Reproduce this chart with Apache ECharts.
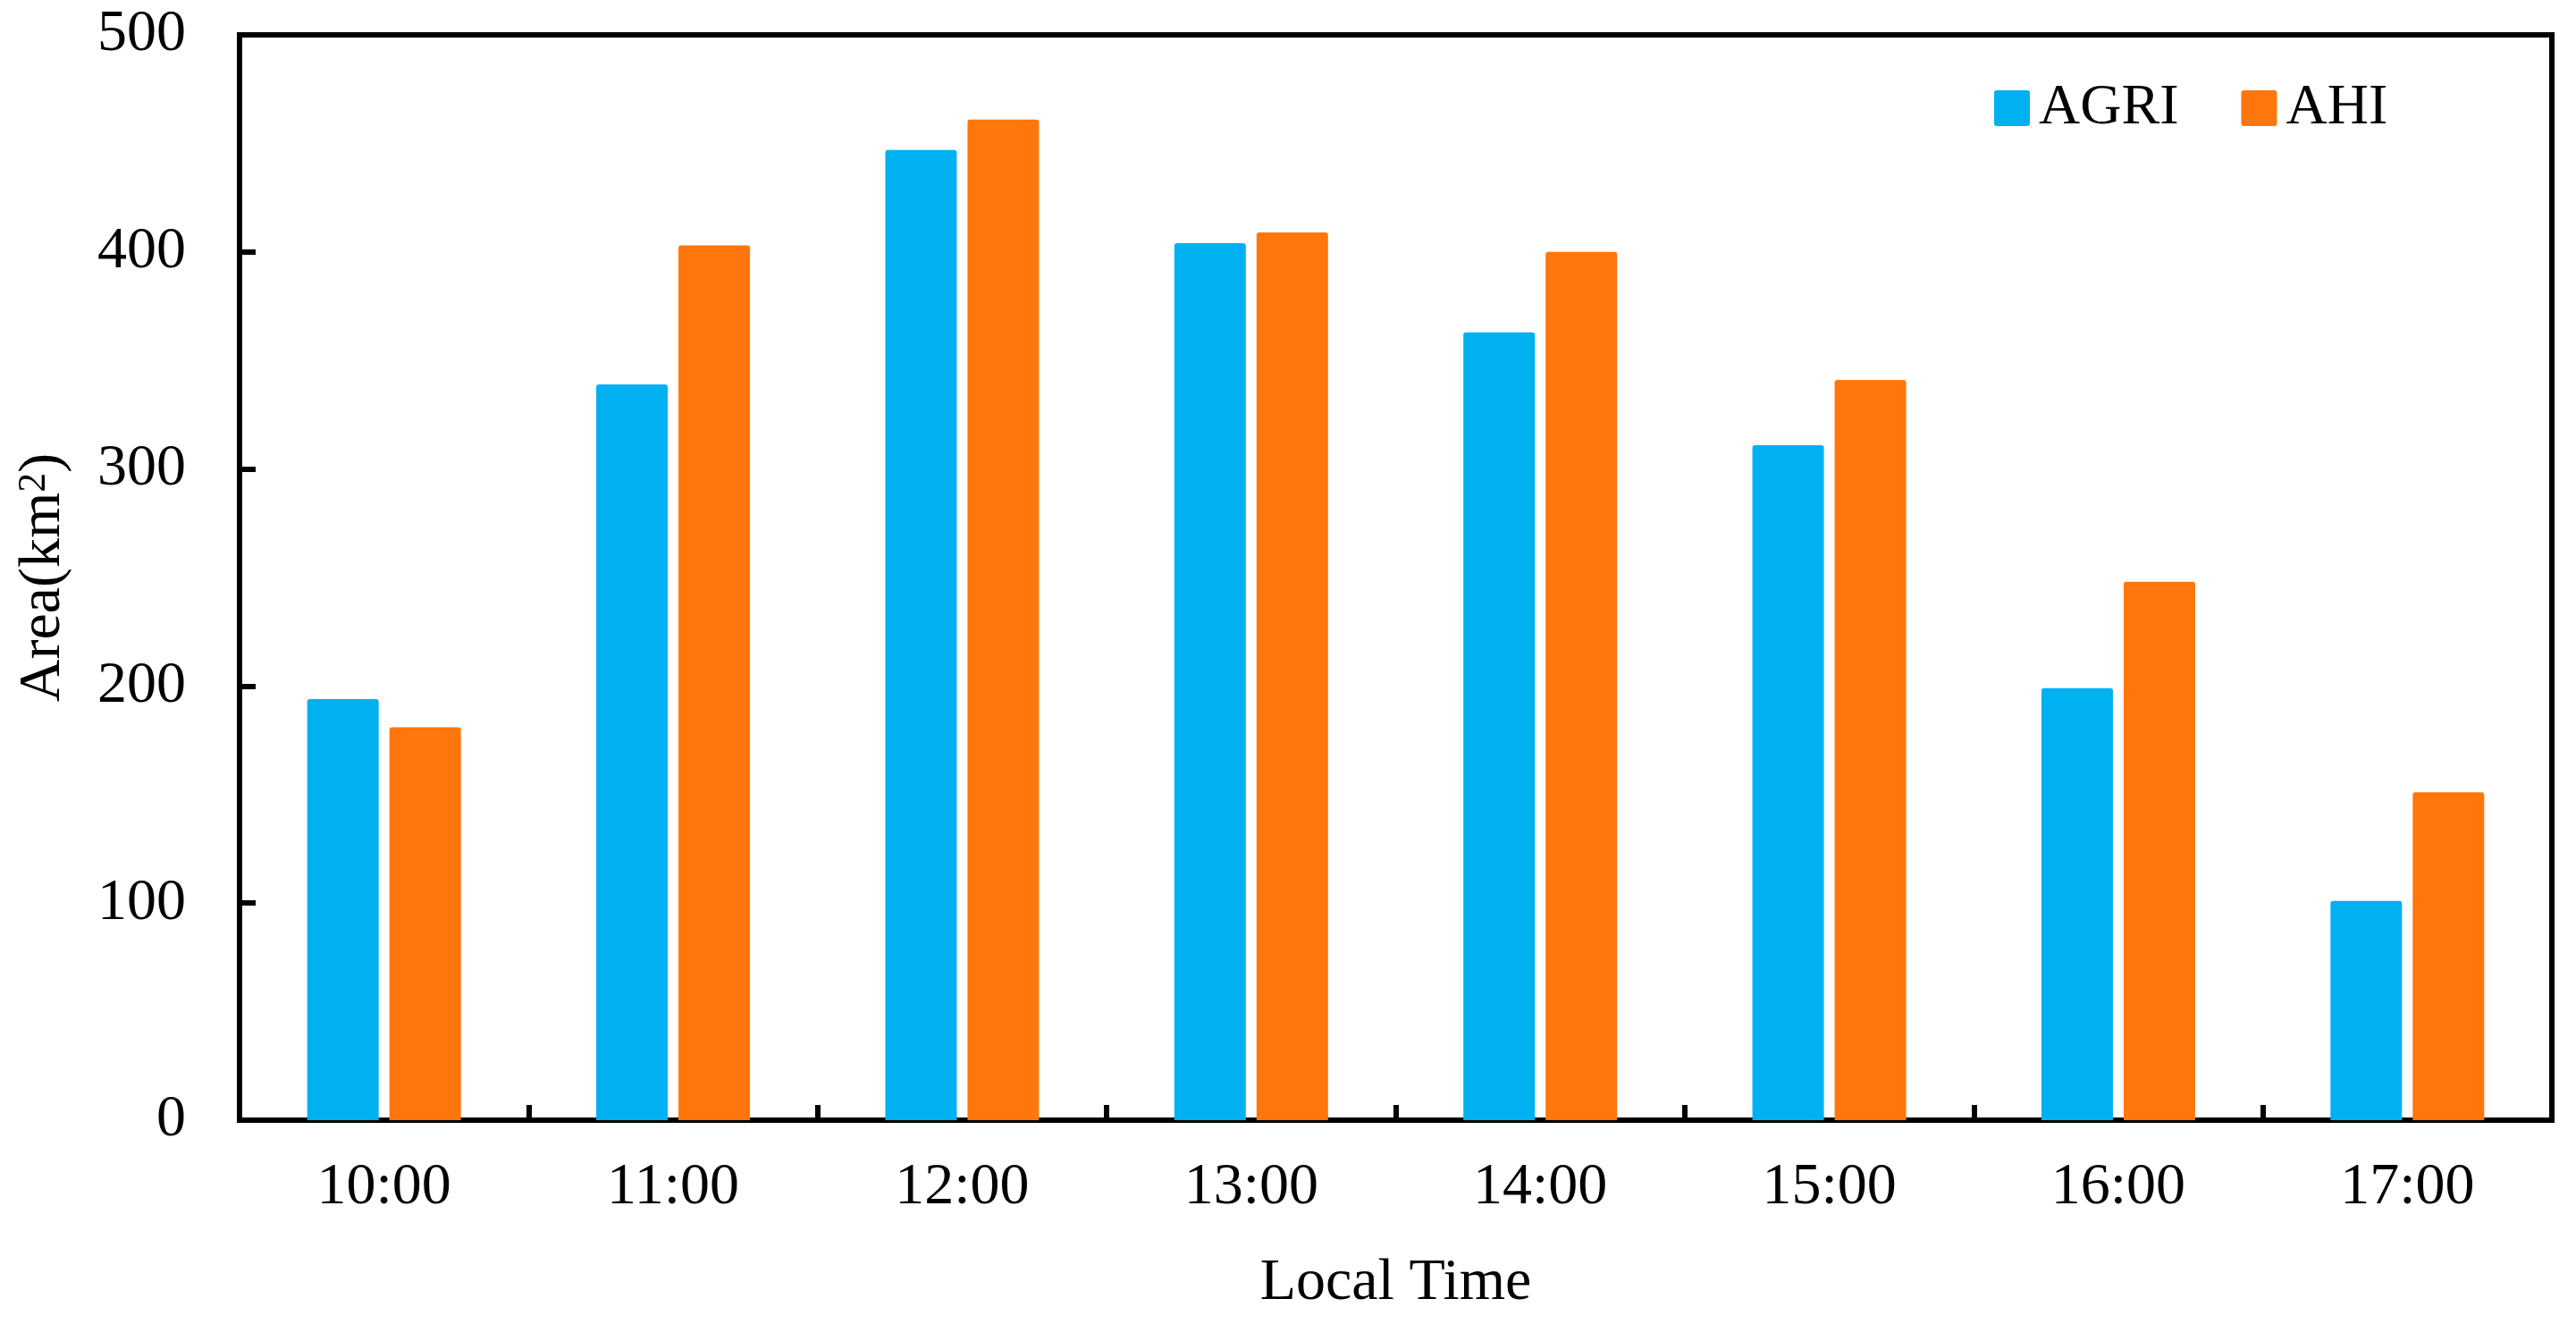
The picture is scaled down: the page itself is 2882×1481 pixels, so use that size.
<!DOCTYPE html>
<html>
<head>
<meta charset="utf-8">
<script src="https://cdn.jsdelivr.net/npm/echarts@6/dist/echarts.min.js"></script>
<style>
html,body{margin:0;padding:0;background:#fff;}
#chart{width:2882px;height:1481px;}
</style>
</head>
<body>
<div id="chart"></div>
<script>
const categories = ['10:00','11:00','12:00','13:00','14:00','15:00','16:00','17:00'];
const agri = [194, 339, 447, 404, 363, 311, 199, 101];
const ahi = [181, 403, 461, 409, 400, 341, 248, 151];
const seriesNames = ['AGRI', 'AHI'];
const yTitle = 'Area(km{sup|2})';
const xTitle = 'Local Time';

const FONT = "'Liberation Serif', 'Times New Roman', serif";
const chart = echarts.init(document.getElementById('chart'), null, {renderer: 'canvas'});
const icon = 'path://M3,0 H37 Q40,0 40,3 V37 Q40,40 37,40 H3 Q0,40 0,37 V3 Q0,0 3,0 Z';
chart.setOption({
  backgroundColor: '#ffffff',
  animation: false,
  textStyle: {fontFamily: FONT},
  grid: {
    left: 268, right: 27, top: 39, bottom: 228,
    show: true, borderColor: '#000', borderWidth: 6, backgroundColor: 'transparent'
  },
  legend: {
    left: 2226, top: 84,
    itemWidth: 40, itemHeight: 40, itemGap: 70,
    icon: icon,
    textStyle: {fontFamily: FONT, fontSize: 64, color: '#000', padding: [0, 0, 0, 5]},
    data: seriesNames
  },
  xAxis: {
    type: 'category',
    data: categories,
    name: xTitle,
    nameLocation: 'middle',
    nameGap: 150,
    nameTextStyle: {fontFamily: FONT, fontSize: 66, color: '#000'},
    axisLine: {show: true, lineStyle: {color: '#000', width: 6}},
    axisTick: {show: true, inside: true, length: 17, lineStyle: {color: '#000', width: 6}},
    axisLabel: {fontFamily: FONT, fontSize: 66, color: '#000', margin: 43},
    splitLine: {show: false}
  },
  yAxis: {
    type: 'value',
    min: 0, max: 500, interval: 100,
    name: yTitle,
    nameLocation: 'middle',
    nameGap: 186,
    nameTextStyle: {
      fontFamily: FONT, fontSize: 66, color: '#000', lineHeight: 66,
      rich: {
        sup: {fontFamily: FONT, fontSize: 44, color: '#000', verticalAlign: 'top', lineHeight: 40}
      }
    },
    axisLine: {show: true, lineStyle: {color: '#000', width: 6}},
    axisTick: {show: true, inside: true, length: 18, lineStyle: {color: '#000', width: 6}},
    axisLabel: {fontFamily: FONT, fontSize: 66, color: '#000', margin: 60},
    splitLine: {show: false}
  },
  series: [
    {
      name: seriesNames[0], type: 'bar', data: agri,
      barWidth: 80, barGap: '15%',
      itemStyle: {color: '#00B1F2', borderRadius: [3, 3, 0, 0]}
    },
    {
      name: seriesNames[1], type: 'bar', data: ahi,
      barWidth: 80, barGap: '15%',
      itemStyle: {color: '#FF760C', borderRadius: [3, 3, 0, 0]}
    }
  ]
});
</script>
</body>
</html>
